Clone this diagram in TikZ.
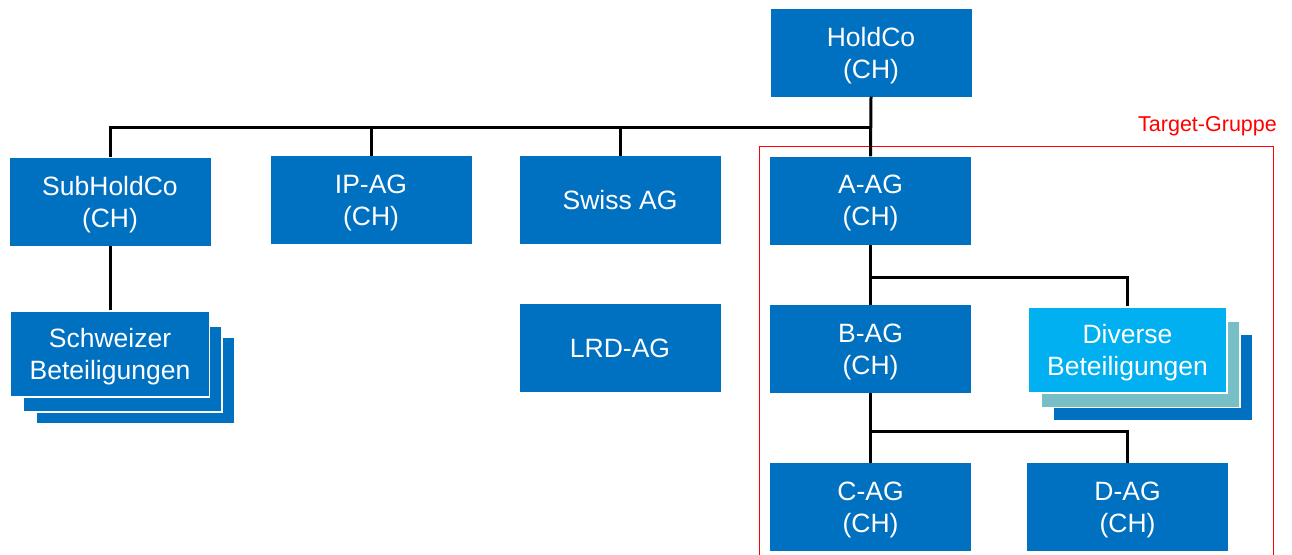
\documentclass[tikz,border=0pt]{standalone}
\usepackage{fontspec}
\setmainfont{Liberation Sans}
\definecolor{boxblue}{HTML}{0070C0}
\definecolor{lightblue}{HTML}{00B0F0}
\definecolor{tealc}{HTML}{78BEC6}
\begin{document}
\begin{tikzpicture}[x=1pt,y=-1pt,
  box/.style={fill=boxblue, text=white, minimum width=201pt, minimum height=88pt, inner sep=0pt, align=center, text depth=0pt, font=\fontsize{26.5}{32}\selectfont},
  layer/.style={draw=white, line width=1.2pt, minimum width=199pt, minimum height=86pt, inner sep=0pt},
  conn/.style={draw=black, line width=3pt}]
\fill[white] (0,0) rectangle (1292,554);
\useasboundingbox (0,0) rectangle (1292,554);
\clip (0,0) rectangle (1292,554);
% target group frame
\draw[red, line width=0.9pt] (759,146) rectangle (1273,580);
\node[anchor=south east, text=red, inner sep=0pt, font=\fontsize{21.5}{24}\selectfont] (tgt) at (1277,136) {Target-Gruppe};
% main boxes
\node[box] (hold) at (871,52.5) {HoldCo\\(CH)};
\node[box] (sub) at (110,201.5) {SubHoldCo\\(CH)};
\node[box] (ip) at (371,200) {IP-AG\\(CH)};
\node[box] (swiss) at (620,200) {Swiss AG};
\node[box] (aag) at (870.5,200.5) {A-AG\\(CH)};
\node[box] (lrd) at (620,348) {LRD-AG};
\node[box] (bag) at (870.5,349) {B-AG\\(CH)};
\node[box] (cag) at (870.5,507) {C-AG\\(CH)};
\node[box] (dag) at (1127.5,507) {D-AG\\(CH)};
% stacked: Schweizer Beteiligungen
\node[layer, fill=boxblue] (sch3) at (135.5,380.5) {};
\node[layer, fill=boxblue] (sch2) at (122.5,369) {};
\node[box, layer, fill=boxblue, text=white] (sch) at (110,354) {Schweizer\\Beteiligungen};
% stacked: Diverse Beteiligungen
\node[layer, fill=boxblue] (div3) at (1153,377.5) {};
\node[layer, fill=tealc] (div2) at (1140.5,364.5) {};
\node[box, layer, fill=lightblue, text=white] (div) at (1127.5,350) {Diverse\\Beteiligungen};
% connectors
\coordinate (bus) at (870,127);
\coordinate (ajoin) at (870,277);
\coordinate (bjoin) at (870,431);
\draw[conn] (hold.south) -- (aag.north);
\draw[conn] (sub.north) |- (bus);
\draw[conn] (ip.north) |- (bus);
\draw[conn] (swiss.north) |- (bus);
\draw[conn] (sub.south) -- (sch.north);
\draw[conn] (aag.south) -- (bag.north);
\draw[conn] (div.north) |- (ajoin);
\draw[conn] (bag.south) -- (cag.north);
\draw[conn] (dag.north) |- (bjoin);
\end{tikzpicture}
\end{document}
